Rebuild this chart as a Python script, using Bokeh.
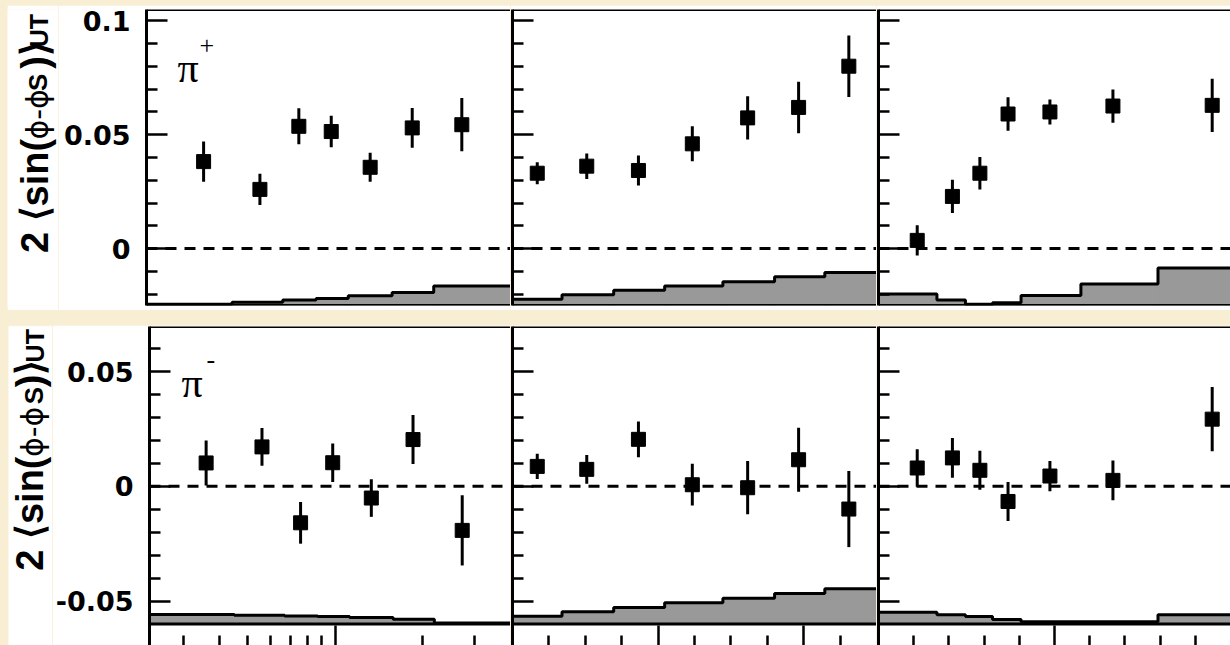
import math
from bokeh.plotting import figure
from bokeh.layouts import row, column, Spacer
from bokeh.models import Span, Label, FixedTicker, ColumnDataSource, BasicTickFormatter
from bokeh.embed import file_html
from bokeh.resources import INLINE

# ---------------- data ----------------
# kinematic bin centres
x_centres = [0.036, 0.056, 0.076, 0.098, 0.133, 0.185, 0.273]
z_centres = [0.234, 0.302, 0.373, 0.447, 0.523, 0.593, 0.662]
pt_centres = [0.11, 0.21, 0.288, 0.368, 0.487, 0.666, 0.948]

# bin edges used by the systematic bands
x_edges = [0.023, 0.045, 0.067, 0.087, 0.112, 0.158, 0.219, 0.4]
z_edges = [0.2, 0.268, 0.339, 0.409, 0.489, 0.56, 0.629, 0.7]
pt_edges = [0.0, 0.166, 0.247, 0.324, 0.405, 0.575, 0.794, 1.0]

# pi+ asymmetries, statistical errors, systematic band heights
pip_x = [0.0382, 0.0260, 0.0537, 0.0514, 0.0357, 0.0530, 0.0544]
pip_x_err = [0.0088, 0.0069, 0.0079, 0.0069, 0.0064, 0.0087, 0.0117]
pip_x_sys = [0.0006, 0.0014, 0.0024, 0.0031, 0.0043, 0.0057, 0.0086]

pip_z = [0.0331, 0.0362, 0.0343, 0.0460, 0.0574, 0.0620, 0.0801]
pip_z_err = [0.0048, 0.0056, 0.0066, 0.0077, 0.0095, 0.0113, 0.0135]
pip_z_sys = [0.0027, 0.0047, 0.0067, 0.0086, 0.0104, 0.0126, 0.0145]

pip_pt = [0.0036, 0.0229, 0.0331, 0.0591, 0.0600, 0.0626, 0.0629]
pip_pt_err = [0.0066, 0.0073, 0.0071, 0.0074, 0.0055, 0.0073, 0.0117]
pip_pt_sys = [0.0050, 0.0024, 0.0005, 0.0012, 0.0044, 0.0094, 0.0165]

# pi- asymmetries, statistical errors, systematic band heights
pim_x = [0.0102, 0.0172, -0.0159, 0.0103, -0.0051, 0.0204, -0.0192]
pim_x_err = [0.0098, 0.0082, 0.0091, 0.0084, 0.0082, 0.0107, 0.0153]
pim_x_sys = [0.0041, 0.0038, 0.0035, 0.0032, 0.0028, 0.0020, 0.0004]

pim_z = [0.0087, 0.0074, 0.0205, 0.0007, -0.0006, 0.0116, -0.0099]
pim_z_err = [0.0055, 0.0063, 0.0078, 0.0091, 0.0116, 0.0140, 0.0166]
pim_z_sys = [0.0034, 0.0053, 0.0072, 0.0092, 0.0112, 0.0133, 0.0153]

pim_pt = [0.0080, 0.0124, 0.0070, -0.0066, 0.0045, 0.0026, 0.0293]
pim_pt_err = [0.0082, 0.0087, 0.0085, 0.0085, 0.0066, 0.0087, 0.0140]
pim_pt_sys = [0.0051, 0.0040, 0.0032, 0.0019, 0.0010, 0.0010, 0.0040]

# axis ticks and labels
top_y_major = [0, 0.05, 0.1]
top_y_minor = [-0.02, -0.01, 0.01, 0.02, 0.03, 0.04, 0.06, 0.07, 0.08, 0.09]
top_y_labels = {0: "0", 0.05: "0.05", 0.1: "0.1"}
bot_y_major = [-0.05, 0, 0.05]
bot_y_minor = [-0.04, -0.03, -0.02, -0.01, 0.01, 0.02, 0.03, 0.04, 0.06]
bot_y_labels = {-0.05: "-0.05", 0: "0", 0.05: "0.05"}

x_major = [0.1]
x_minor = [0.03, 0.04, 0.05, 0.06, 0.07, 0.08, 0.09, 0.2, 0.3]
z_major = [0.4, 0.6]
z_minor = [0.25, 0.3, 0.35, 0.45, 0.5, 0.55, 0.65]
pt_major = [0.5]
pt_minor = [0.1, 0.2, 0.3, 0.4, 0.6, 0.7, 0.8, 0.9]

# y-axis title pieces: 2 <sin(phi - phi_S)>_UT
title_pieces = ["2 \u27e8sin(", "\u03d5-\u03d5", "S", ")\u27e9", "UT"]

CREAM = "#F8EED4"
BAND = "#999999"
TICK_W = 2.5

TOP_RANGE = (-0.025, 0.105)
BOT_RANGE = (-0.0694, 0.0697)
TOP_BASE = -0.025
BOT_BASE = -0.06

TOP_H, BOT_H = 305, 320
TITLE_W_TOP, TITLE_W_BOT = 51, 44


def hide_labels(ax):
    ax.major_label_text_font_size = "0px"
    ax.major_label_text_color = None
    ax.major_label_standoff = 0
    ax.formatter = BasicTickFormatter()


def make_panel(col, top, xs, ys, errs, edges, sys, xr, xmaj, xmin):
    widths = [503 - TITLE_W_TOP, 366, 354] if top else [502 - TITLE_W_BOT, 366, 354]
    mbl = [139 - TITLE_W_TOP, 2, 2] if top else [138 - TITLE_W_BOT, 2, 2]
    p = figure(
        width=widths[col], height=TOP_H if top else BOT_H,
        x_range=xr, y_range=TOP_RANGE if top else BOT_RANGE,
        x_axis_type="log" if col == 0 else "linear",
        x_axis_location=None if top else "below",
        output_backend="svg", toolbar_location=None,
        min_border_left=mbl[col], min_border_right=0,
        min_border_top=4 if top else 1, min_border_bottom=5 if top else 0,
        background_fill_color="white", border_fill_color="white",
        outline_line_color=None,
    )
    p.grid.visible = False

    # y axis with inward ticks
    ya = p.yaxis[0]
    ya.ticker = FixedTicker(ticks=top_y_major if top else bot_y_major,
                            minor_ticks=top_y_minor if top else bot_y_minor)
    ya.major_tick_in = 21
    ya.major_tick_out = 0
    ya.minor_tick_in = 11
    ya.minor_tick_out = 0
    ya.major_tick_line_width = TICK_W
    ya.minor_tick_line_width = TICK_W
    ya.axis_line_width = 3
    ya.axis_line_color = "black"
    if col == 0:
        ya.major_label_overrides = top_y_labels if top else bot_y_labels
        ya.major_label_text_font = "DejaVu Sans"
        ya.major_label_text_font_style = "bold"
        ya.major_label_text_font_size = "27px"
        ya.major_label_text_color = "black"
        ya.major_label_standoff = 16
    else:
        hide_labels(ya)

    if not top:
        xa = p.xaxis[0]
        xa.ticker = FixedTicker(ticks=xmaj, minor_ticks=xmin)
        xa.major_tick_in = 20
        xa.major_tick_out = 0
        xa.minor_tick_in = 10
        xa.minor_tick_out = 0
        xa.major_tick_line_width = TICK_W
        xa.minor_tick_line_width = TICK_W
        xa.axis_line_color = None
        hide_labels(xa)

    base = TOP_BASE if top else BOT_BASE
    # systematic band
    band = ColumnDataSource(dict(left=edges[:-1], right=edges[1:],
                                 bottom=[base] * len(sys),
                                 top=[base + s for s in sys]))
    p.quad(left="left", right="right", bottom="bottom", top="top", source=band,
           fill_color=BAND, line_color=BAND, line_width=1)
    p.step(x=edges, y=[base + s for s in sys] + [base + sys[-1]], mode="after",
           line_color="black", line_width=3)

    # frame lines
    yr = TOP_RANGE if top else BOT_RANGE
    p.add_layout(Span(location=yr[1], dimension="width", line_color="black", line_width=3))
    p.add_layout(Span(location=base, dimension="width", line_color="black", line_width=3))
    # zero line
    p.add_layout(Span(location=0, dimension="width", line_color="black",
                      line_width=3, line_dash="11 8"))

    src = ColumnDataSource(dict(x=xs, y=ys,
                                lo=[v - e for v, e in zip(ys, errs)],
                                hi=[v + e for v, e in zip(ys, errs)]))
    p.segment(x0="x", y0="lo", x1="x", y1="hi", source=src,
              line_color="black", line_width=3)
    p.scatter(x="x", y="y", source=src, marker="square", size=14,
              fill_color="black", line_color="black")
    return p


def make_title(width, height, starts, anchors):
    # a narrow canvas holding the rotated y-axis title; coordinates are pixels
    t = figure(width=width, height=height, x_range=(0, width), y_range=(0, height),
               x_axis_location=None, y_axis_location=None,
               output_backend="svg", toolbar_location=None,
               min_border_left=0, min_border_right=0, min_border_top=0, min_border_bottom=0,
               background_fill_color="white", border_fill_color="white",
               outline_line_color=None)
    t.grid.visible = False
    styles = [
        ("Liberation Sans", "bold", "38px"),
        ("DejaVu Sans", "normal", "30px"),
        ("Liberation Sans", "bold", "26px"),
        ("Liberation Sans", "bold", "38px"),
        ("Liberation Sans", "bold", "25px"),
    ]
    for txt, (font, style, size), y, x in zip(title_pieces, styles, starts, anchors):
        t.add_layout(Label(x=x, y=y, text=txt, angle=math.pi / 2,
                           text_font=font, text_font_style=style, text_font_size=size,
                           text_align="left", text_baseline="bottom",
                           text_color="black"))
    return t


def add_particle(p, x0, main_y, sup_x, sup_y, sup):
    p.add_layout(Label(x=x0, y=main_y, x_units="screen", y_units="data", text="\u03c0",
                       text_font="Liberation Serif", text_font_size="42px",
                       text_baseline="alphabetic", text_color="black"))
    p.add_layout(Label(x=sup_x, y=sup_y, x_units="screen", y_units="data", text=sup,
                       text_font="Liberation Serif", text_font_size="26px",
                       text_baseline="alphabetic", text_color="black"))


top_panels = [
    make_panel(0, True, x_centres, pip_x, pip_x_err, x_edges, pip_x_sys, (0.023, 0.4), x_major, x_minor),
    make_panel(1, True, z_centres, pip_z, pip_z_err, z_edges, pip_z_sys, (0.2, 0.7), z_major, z_minor),
    make_panel(2, True, pt_centres, pip_pt, pip_pt_err, pt_edges, pip_pt_sys, (0.0, 1.0), pt_major, pt_minor),
]
bot_panels = [
    make_panel(0, False, x_centres, pim_x, pim_x_err, x_edges, pim_x_sys, (0.023, 0.4), x_major, x_minor),
    make_panel(1, False, z_centres, pim_z, pim_z_err, z_edges, pim_z_sys, (0.2, 0.7), z_major, z_minor),
    make_panel(2, False, pt_centres, pim_pt, pim_pt_err, pt_edges, pim_pt_sys, (0.0, 1.0), pt_major, pt_minor),
]

top_title = make_title(TITLE_W_TOP, TOP_H, [54, 171, 221, 244, 266], [48, 47, 45.5, 48, 45.5])
bot_title = make_title(TITLE_W_BOT, BOT_H, [75, 189, 242, 259, 284], [42, 41, 40, 42, 40])

add_particle(top_panels[0], 31, 0.0794, 53, 0.0890, "+")
add_particle(bot_panels[0], 32, 0.0450, 57, 0.0555, "-")

layout = column(
    Spacer(height=5),
    row(Spacer(width=7), top_title, *top_panels),
    Spacer(height=15),
    row(Spacer(width=8), bot_title, *bot_panels),
    styles={"background-color": CREAM},
)

open("out.html", "w").write(file_html(layout, INLINE))
